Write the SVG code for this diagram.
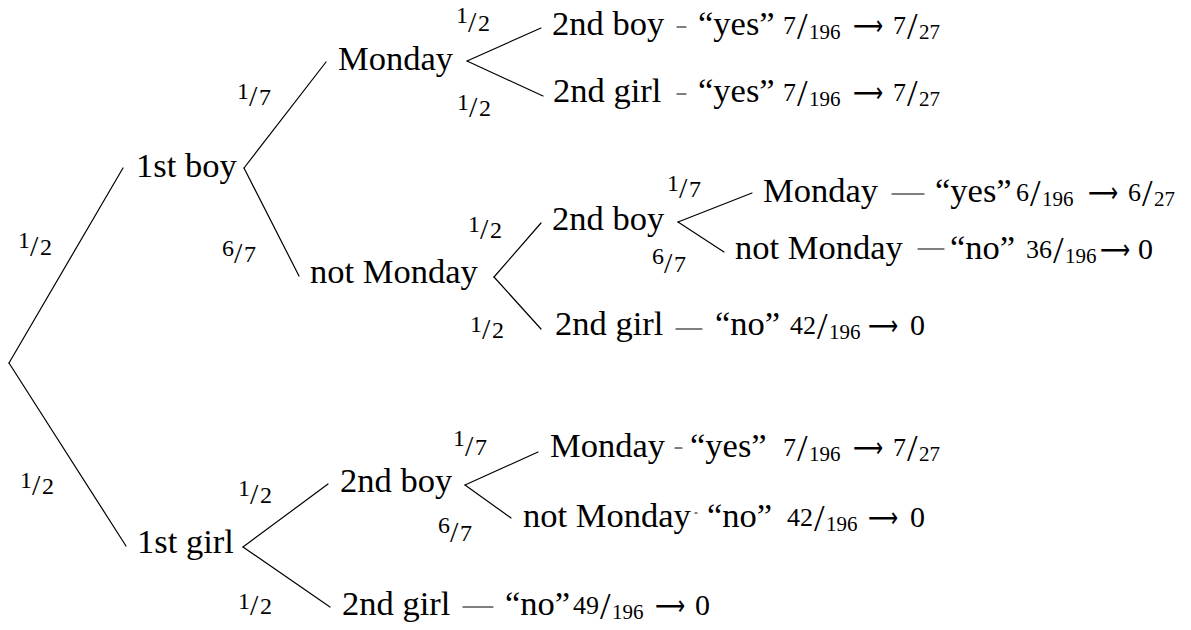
<svg xmlns="http://www.w3.org/2000/svg" width="1191" height="630" viewBox="0 0 1191 630">
<style>
text{font-family:"Liberation Serif","DejaVu Serif",serif;fill:#000}
.t{font-size:34.5px}
.n{font-size:24px}.s{font-size:30px}.d{font-size:24px}
.ln{font-size:26px}.ls{font-size:38px}.ld{font-size:21px}
.ar{font-family:"DejaVu Sans",sans-serif;font-size:28px}
.z{font-size:30px}
line{stroke:#000;stroke-width:1.2;stroke-linecap:round}
</style>
<rect width="1191" height="630" fill="#fff"/>
<g id="connectors">
<line x1="9" y1="363" x2="123" y2="168"/>
<line x1="9" y1="363" x2="126" y2="546"/>
<line x1="244" y1="168" x2="326" y2="62"/>
<line x1="244" y1="168" x2="299" y2="276"/>
<line x1="467" y1="61" x2="541" y2="28"/>
<line x1="467" y1="61" x2="543" y2="96"/>
<line x1="494" y1="277" x2="541" y2="223"/>
<line x1="494" y1="277" x2="541" y2="329"/>
<line x1="678" y1="222" x2="752" y2="193"/>
<line x1="678" y1="222" x2="724" y2="252"/>
<line x1="243" y1="547" x2="328" y2="484"/>
<line x1="243" y1="547" x2="330" y2="607"/>
<line x1="465" y1="485" x2="538" y2="452"/>
<line x1="465" y1="485" x2="511" y2="518"/>
<line x1="677" y1="27" x2="686" y2="27"/>
<line x1="677" y1="94" x2="686" y2="94"/>
<line x1="892" y1="194" x2="924" y2="194"/>
<line x1="918" y1="249" x2="944" y2="249"/>
<line x1="676" y1="329" x2="702" y2="329"/>
<line x1="675" y1="448" x2="682" y2="448"/>
<line x1="695" y1="513" x2="697" y2="513"/>
<line x1="463" y1="607" x2="493" y2="607"/>
<g id="edge-labels">
<text><tspan class="n" x="18" y="248">1</tspan><tspan class="s" x="30" y="256">/</tspan><tspan class="d" x="40" y="255">2</tspan></text>
<text><tspan class="n" x="20" y="488">1</tspan><tspan class="s" x="32" y="495">/</tspan><tspan class="d" x="42" y="494">2</tspan></text>
<text><tspan class="n" x="237" y="99">1</tspan><tspan class="s" x="249" y="106">/</tspan><tspan class="d" x="259" y="105">7</tspan></text>
<text><tspan class="n" x="222" y="256">6</tspan><tspan class="s" x="234" y="263">/</tspan><tspan class="d" x="244" y="262">7</tspan></text>
<text><tspan class="n" x="456" y="23">1</tspan><tspan class="s" x="468" y="32">/</tspan><tspan class="d" x="478" y="31">2</tspan></text>
<text><tspan class="n" x="457" y="110">1</tspan><tspan class="s" x="469" y="117">/</tspan><tspan class="d" x="479" y="116">2</tspan></text>
<text><tspan class="n" x="468" y="232">1</tspan><tspan class="s" x="480" y="239">/</tspan><tspan class="d" x="490" y="238">2</tspan></text>
<text><tspan class="n" x="470" y="332">1</tspan><tspan class="s" x="482" y="339">/</tspan><tspan class="d" x="492" y="338">2</tspan></text>
<text><tspan class="n" x="667" y="191">1</tspan><tspan class="s" x="679" y="198">/</tspan><tspan class="d" x="689" y="197">7</tspan></text>
<text><tspan class="n" x="652" y="264">6</tspan><tspan class="s" x="664" y="273">/</tspan><tspan class="d" x="674" y="272">7</tspan></text>
<text><tspan class="n" x="238" y="496">1</tspan><tspan class="s" x="250" y="504">/</tspan><tspan class="d" x="260" y="503">2</tspan></text>
<text><tspan class="n" x="238" y="609">1</tspan><tspan class="s" x="250" y="615">/</tspan><tspan class="d" x="260" y="614">2</tspan></text>
<text><tspan class="n" x="453" y="446">1</tspan><tspan class="s" x="465" y="456">/</tspan><tspan class="d" x="475" y="455">7</tspan></text>
<text><tspan class="n" x="438" y="533">6</tspan><tspan class="s" x="450" y="542">/</tspan><tspan class="d" x="460" y="541">7</tspan></text>
</g>
</g>
<g id="n-1st-boy"><text class="t" x="136" y="177">1st boy</text></g>
<g id="n-monday"><text class="t" x="338" y="70">Monday</text></g>
<g id="n-not-monday"><text class="t" x="310" y="283">not Monday</text></g>
<g id="n-m-2nd-boy"><text class="t" x="552" y="35">2nd boy</text></g>
<g id="n-m-2nd-girl"><text class="t" x="553" y="102">2nd girl</text></g>
<g id="n-nm-2nd-boy"><text class="t" x="552" y="230">2nd boy</text></g>
<g id="n-nm-b-monday"><text class="t" x="763" y="202">Monday</text></g>
<g id="n-nm-b-not-monday"><text class="t" x="735" y="259">not Monday</text></g>
<g id="n-nm-2nd-girl"><text class="t" x="555" y="335">2nd girl</text></g>
<g id="n-1st-girl"><text class="t" x="137" y="553">1st girl</text></g>
<g id="n-g-2nd-boy"><text class="t" x="340" y="492">2nd boy</text></g>
<g id="n-g-2nd-girl"><text class="t" x="342" y="615">2nd girl</text></g>
<g id="n-g-b-monday"><text class="t" x="550" y="457">Monday</text></g>
<g id="n-g-b-not-monday"><text class="t" x="523" y="527">not Monday</text></g>
<g id="leaf-a">
<text class="t" x="698" y="35">“yes”</text>
<text><tspan class="ln" x="783" y="34">7</tspan><tspan class="ls" x="797" y="39">/</tspan><tspan class="ld" x="809" y="39">196</tspan></text>
<text class="ar" x="853" y="35" textLength="30" lengthAdjust="spacingAndGlyphs">⟶</text>
<text><tspan class="ln" x="893" y="34">7</tspan><tspan class="ls" x="907" y="39">/</tspan><tspan class="ld" x="919" y="39">27</tspan></text>
</g>
<g id="leaf-b">
<text class="t" x="698" y="102">“yes”</text>
<text><tspan class="ln" x="783" y="101">7</tspan><tspan class="ls" x="797" y="106">/</tspan><tspan class="ld" x="809" y="106">196</tspan></text>
<text class="ar" x="853" y="102" textLength="30" lengthAdjust="spacingAndGlyphs">⟶</text>
<text><tspan class="ln" x="893" y="101">7</tspan><tspan class="ls" x="907" y="106">/</tspan><tspan class="ld" x="919" y="106">27</tspan></text>
</g>
<g id="leaf-c">
<text class="t" x="935" y="202">“yes”</text>
<text><tspan class="ln" x="1016" y="201">6</tspan><tspan class="ls" x="1030" y="206">/</tspan><tspan class="ld" x="1042" y="206">196</tspan></text>
<text class="ar" x="1088" y="202" textLength="30" lengthAdjust="spacingAndGlyphs">⟶</text>
<text><tspan class="ln" x="1128" y="201">6</tspan><tspan class="ls" x="1142" y="206">/</tspan><tspan class="ld" x="1154" y="206">27</tspan></text>
</g>
<g id="leaf-d">
<text class="t" x="950" y="259">“no”</text>
<text><tspan class="ln" x="1026" y="258">36</tspan><tspan class="ls" x="1053" y="263">/</tspan><tspan class="ld" x="1065" y="263">196</tspan></text>
<text class="ar" x="1100" y="259" textLength="30" lengthAdjust="spacingAndGlyphs">⟶</text>
<text class="z" x="1138" y="259">0</text>
</g>
<g id="leaf-e">
<text class="t" x="715" y="335">“no”</text>
<text><tspan class="ln" x="790" y="334">42</tspan><tspan class="ls" x="817" y="339">/</tspan><tspan class="ld" x="829" y="339">196</tspan></text>
<text class="ar" x="868" y="335" textLength="30" lengthAdjust="spacingAndGlyphs">⟶</text>
<text class="z" x="910" y="335">0</text>
</g>
<g id="leaf-f">
<text class="t" x="690" y="457">“yes”</text>
<text><tspan class="ln" x="783" y="456">7</tspan><tspan class="ls" x="797" y="461">/</tspan><tspan class="ld" x="809" y="461">196</tspan></text>
<text class="ar" x="853" y="457" textLength="30" lengthAdjust="spacingAndGlyphs">⟶</text>
<text><tspan class="ln" x="893" y="456">7</tspan><tspan class="ls" x="907" y="461">/</tspan><tspan class="ld" x="919" y="461">27</tspan></text>
</g>
<g id="leaf-g">
<text class="t" x="707" y="527">“no”</text>
<text><tspan class="ln" x="787" y="526">42</tspan><tspan class="ls" x="814" y="531">/</tspan><tspan class="ld" x="826" y="531">196</tspan></text>
<text class="ar" x="868" y="527" textLength="30" lengthAdjust="spacingAndGlyphs">⟶</text>
<text class="z" x="910" y="527">0</text>
</g>
<g id="leaf-h">
<text class="t" x="505" y="615">“no”</text>
<text><tspan class="ln" x="573" y="614">49</tspan><tspan class="ls" x="600" y="619">/</tspan><tspan class="ld" x="612" y="619">196</tspan></text>
<text class="ar" x="655" y="615" textLength="30" lengthAdjust="spacingAndGlyphs">⟶</text>
<text class="z" x="695" y="615">0</text>
</g>
</svg>
